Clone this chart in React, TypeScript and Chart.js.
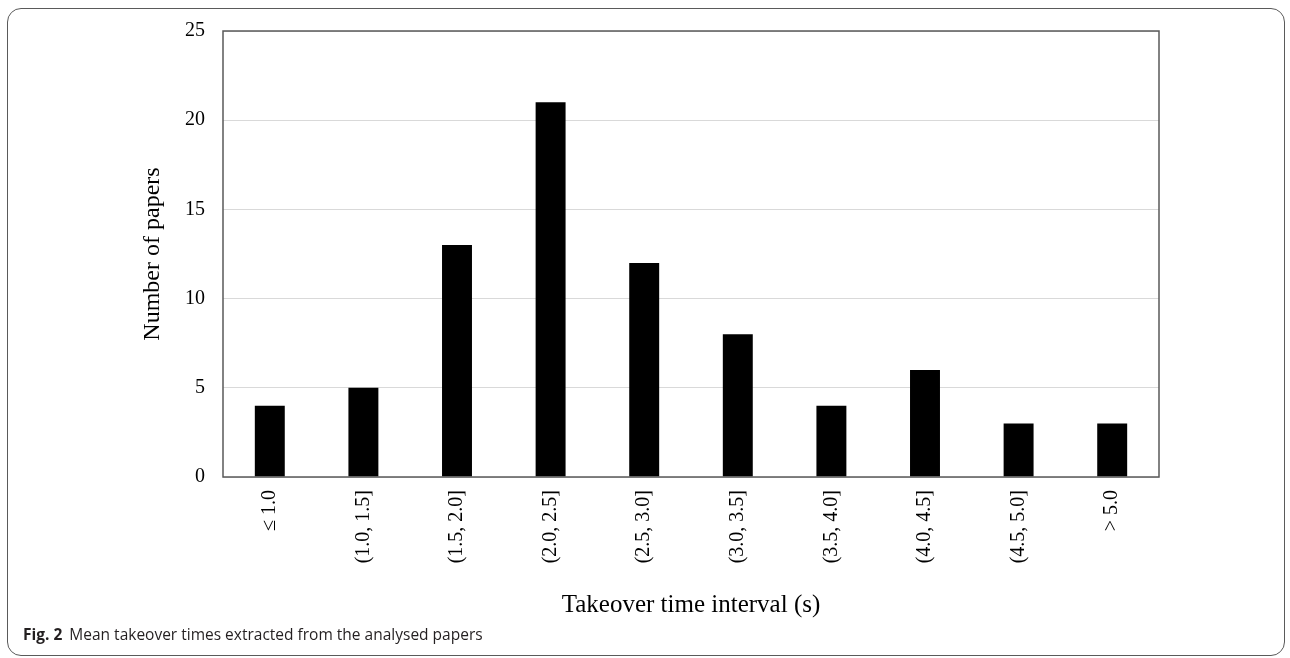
import React, { useEffect, useRef } from 'react'
import { Chart, ChartConfiguration, registerables } from 'chart.js'

Chart.register(...registerables)

const intervals = ['≤ 1.0', '(1.0, 1.5]', '(1.5, 2.0]', '(2.0, 2.5]', '(2.5, 3.0]', '(3.0, 3.5]', '(3.5, 4.0]', '(4.0, 4.5]', '(4.5, 5.0]', '> 5.0']
const paperCounts = [4, 5, 13, 21, 12, 8, 4, 6, 3, 3]
const yTicks = [0, 5, 10, 15, 20, 25]

const serif = '"Liberation Serif", "Times New Roman", serif'

// box round the plot area (all four sides)
const plotFrame = {
  id: 'plotFrame',
  afterDraw(chart: Chart) {
    const { ctx, chartArea } = chart
    const { left, top, right, bottom } = chartArea
    ctx.save()
    ctx.strokeStyle = '#595959'
    ctx.lineWidth = 1.5
    ctx.strokeRect(left, top, right - left, bottom - top)
    ctx.restore()
  }
}

export default function App() {
  const canvasRef = useRef<HTMLCanvasElement>(null)

  useEffect(() => {
    if (!canvasRef.current) return
    const ctx = canvasRef.current.getContext('2d')
    if (!ctx) return

    const config: ChartConfiguration = {
      type: 'bar',
      data: {
        labels: intervals,
        datasets: [{
          label: 'Number of papers',
          data: paperCounts,
          backgroundColor: '#000000',
          borderWidth: 0,
          categoryPercentage: 1,
          barPercentage: 0.32
        }]
      },
      options: {
        responsive: true,
        maintainAspectRatio: false,
        animation: false,
        layout: {
          padding: { left: 130, right: 131, top: 31, bottom: 34 }
        },
        plugins: {
          legend: { display: false },
          tooltip: { enabled: false }
        },
        scales: {
          x: {
            grid: { display: false },
            border: { display: false },
            ticks: {
              color: '#000000',
              font: { family: serif, size: 20 },
              minRotation: 90,
              maxRotation: 90,
              autoSkip: false,
              padding: 5
            },
            title: {
              display: true,
              text: 'Takeover time interval (s)',
              color: '#000000',
              font: { family: serif, size: 25 },
              padding: { top: 4, bottom: 4 }
            },
            // eslint-disable-next-line @typescript-eslint/no-explicit-any
            afterFit: (scale: any) => { scale.height = 147 }
          },
          y: {
            min: 0,
            max: 25,
            grid: { color: '#d9d9d9', lineWidth: 1, drawTicks: false },
            border: { display: false },
            // eslint-disable-next-line @typescript-eslint/no-explicit-any
            afterBuildTicks: (scale: any) => { scale.ticks = yTicks.map(v => ({ value: v })) },
            ticks: {
              color: '#000000',
              font: { family: serif, size: 20 },
              padding: 18
            },
            title: {
              display: true,
              text: 'Number of papers',
              color: '#000000',
              font: { family: serif, size: 24 },
              padding: { top: 8, bottom: 4 }
            },
            // eslint-disable-next-line @typescript-eslint/no-explicit-any
            afterFit: (scale: any) => { scale.width = 93 }
          }
        }
      },
      plugins: [plotFrame]
    }

    const chart = new Chart(ctx, config)
    return () => {
      chart.destroy()
    }
  }, [])

  return (
    <div style={{ position: 'absolute', left: 0, top: 0, width: 1290, height: 658, background: '#ffffff', overflow: 'hidden' }}>
      {/* figure frame */}
      <div
        style={{
          position: 'absolute',
          left: 7,
          top: 8,
          width: 1276,
          height: 646,
          border: '1.5px solid #5a5a5a',
          borderRadius: 14
        }}
      />
      <div style={{ position: 'absolute', left: 0, top: 0, width: 1290, height: 658 }}>
        <canvas ref={canvasRef} />
      </div>
      {/* caption */}
      <div
        style={{
          position: 'absolute',
          left: 23,
          top: 623,
          fontFamily: '"Open Sans", "Noto Sans", sans-serif',
          fontSize: 15.5,
          color: '#231f20',
          whiteSpace: 'nowrap'
        }}
      >
        <span style={{ fontWeight: 700 }}>Fig. 2</span>
        <span style={{ marginLeft: 7 }}>Mean takeover times extracted from the analysed papers</span>
      </div>
    </div>
  )
}
